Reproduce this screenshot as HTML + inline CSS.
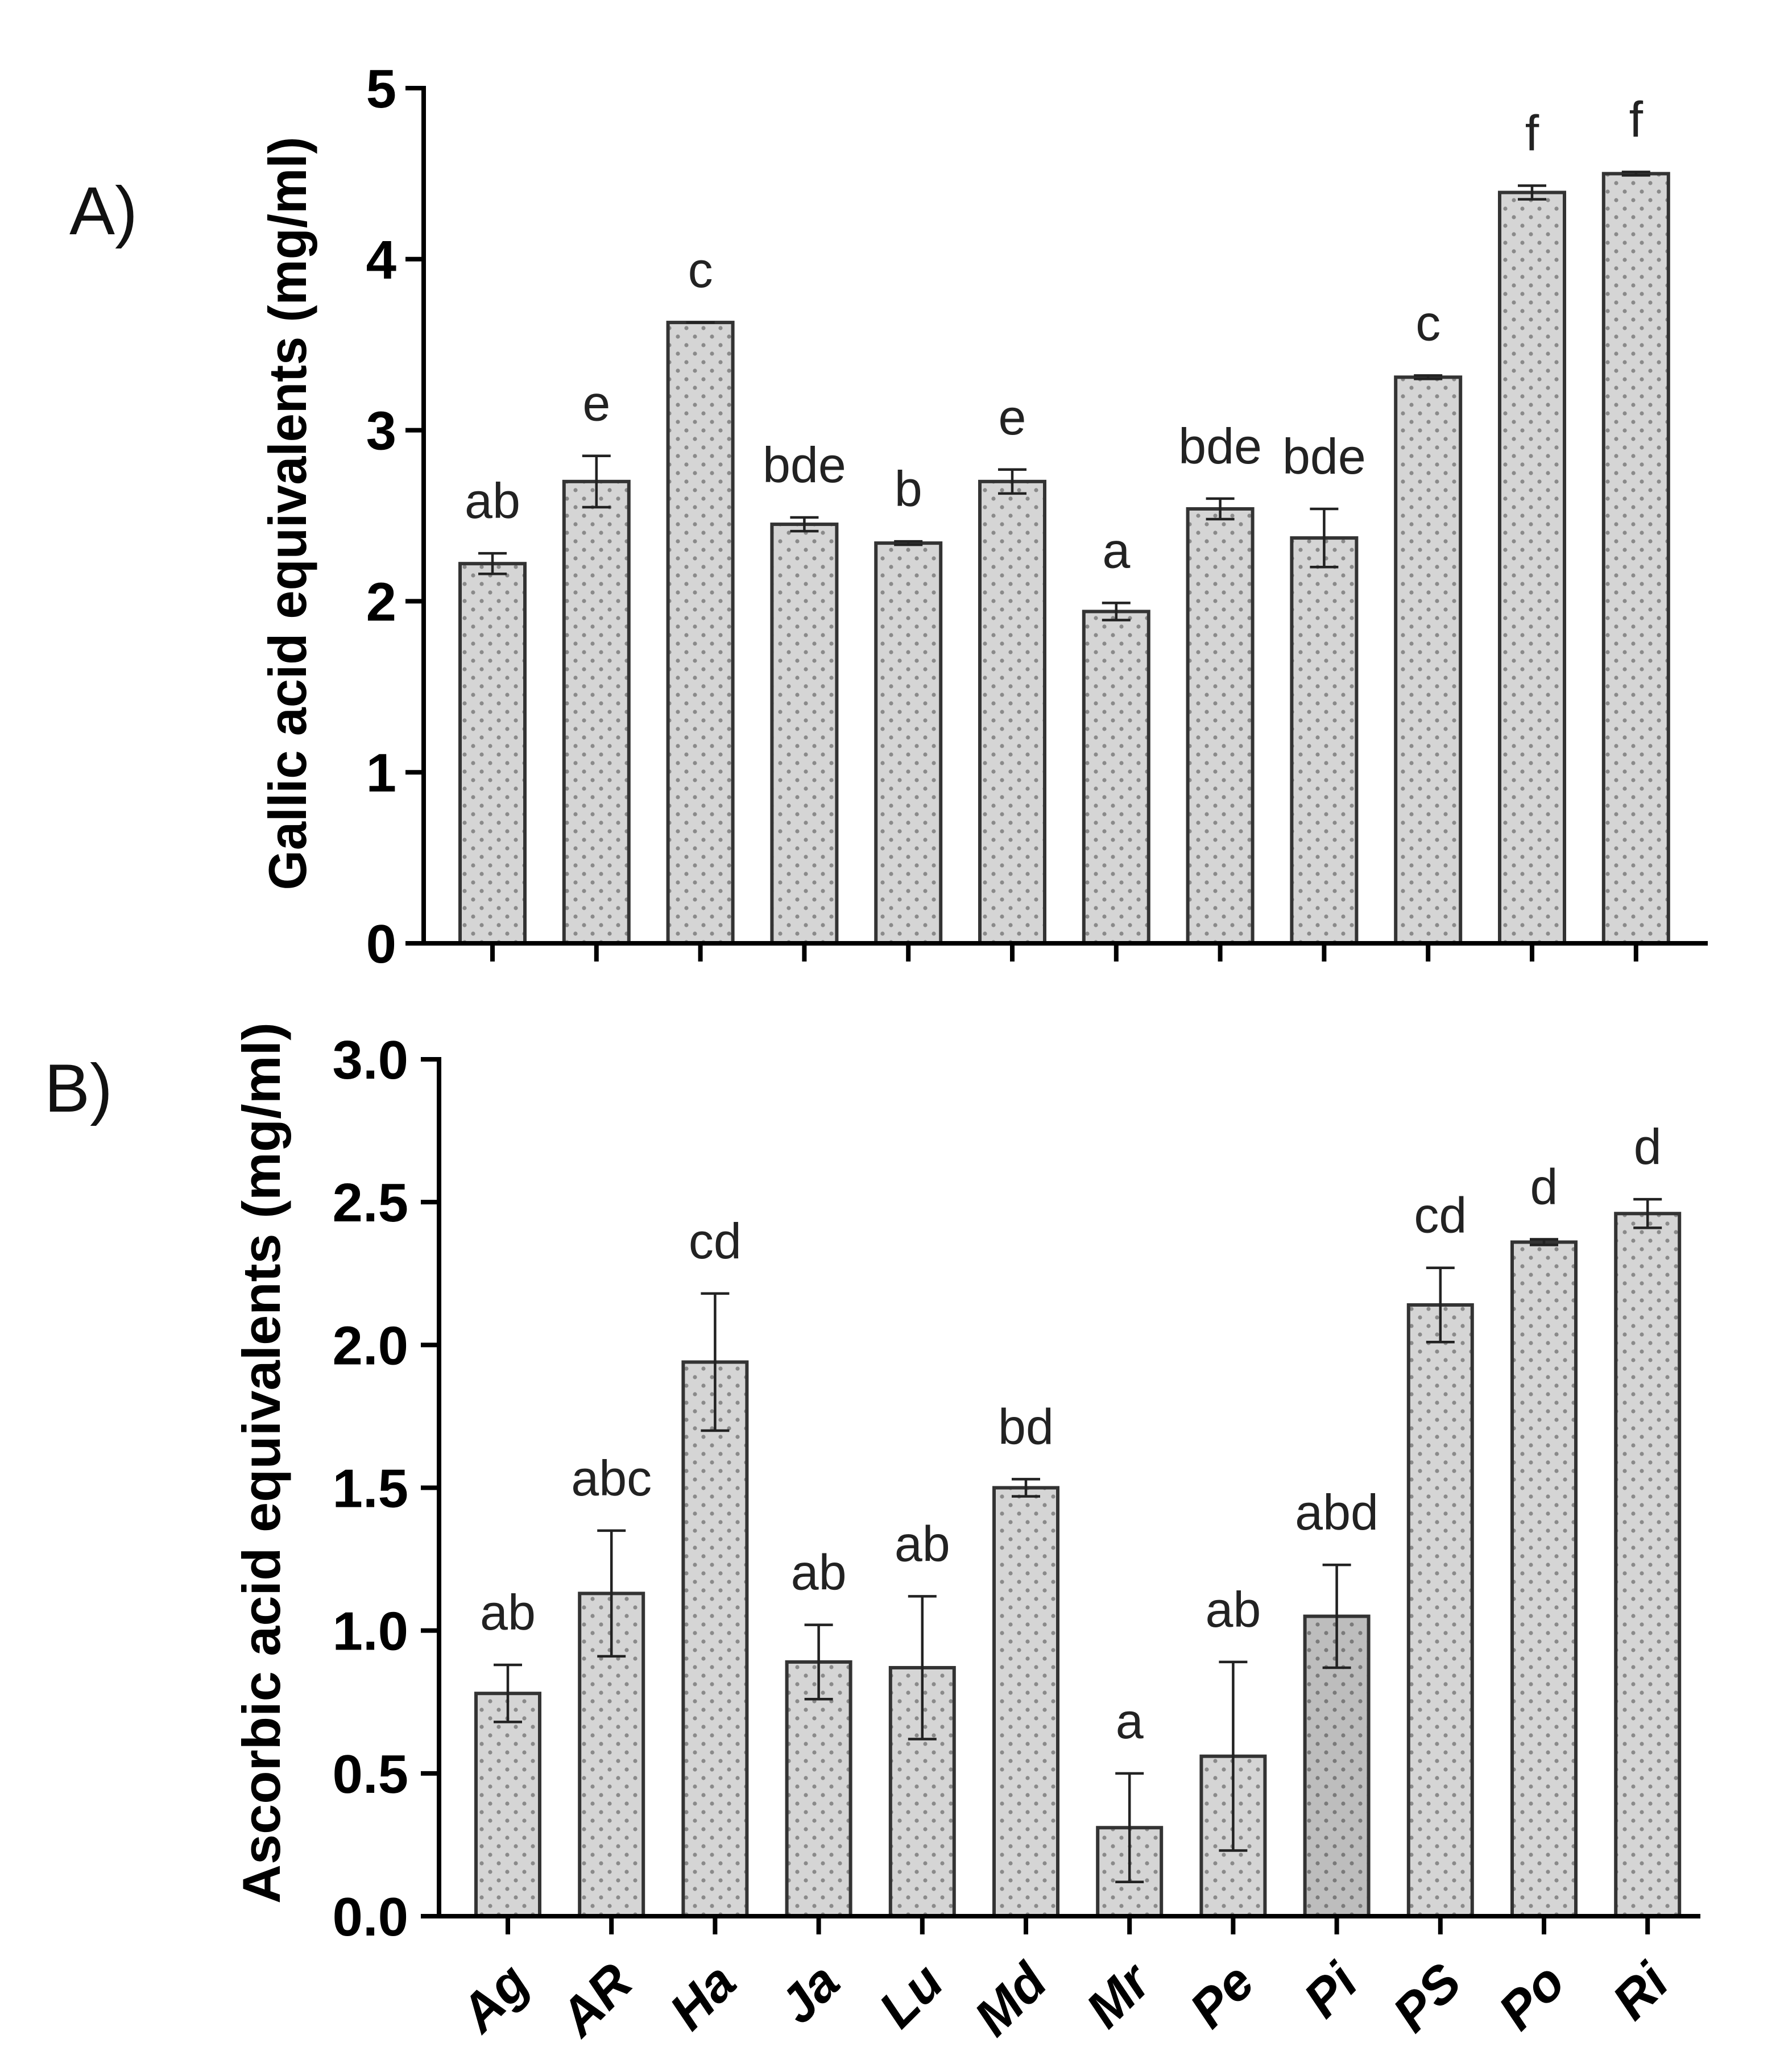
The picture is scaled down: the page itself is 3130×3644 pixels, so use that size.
<!DOCTYPE html>
<html><head><meta charset="utf-8"><style>
html,body{margin:0;padding:0;background:#fff;}
svg{display:block;}
text{font-family:"Liberation Sans",Arial,sans-serif;}
</style></head>
<body>
<svg id="fig" width="3130" height="3644" viewBox="0 0 3130 3644" xmlns="http://www.w3.org/2000/svg">
<defs>
<pattern id="dots" width="30" height="30" patternUnits="userSpaceOnUse">
<rect width="30" height="30" fill="#d5d5d5"/>
<circle cx="7" cy="7" r="3.6" fill="#8a8a8a"/>
<circle cx="22" cy="22" r="3.6" fill="#8a8a8a"/>
</pattern>
<pattern id="dots2" width="30" height="30" patternUnits="userSpaceOnUse">
<rect width="30" height="30" fill="#bdbdbd"/>
<circle cx="7" cy="7" r="3.6" fill="#7a7a7a"/>
<circle cx="22" cy="22" r="3.6" fill="#7a7a7a"/>
</pattern>
</defs>
<text x="122" y="412" font-size="120" fill="#111">A)</text>
<text x="78" y="1955" font-size="120" fill="#111">B)</text>
<g id="pa"></g>
<g id="pb"></g>
</svg>
<script>
const categories = ["Ag","AR","Ha","Ja","Lu","Md","Mr","Pe","Pi","PS","Po","Ri"];
const gallicValues = [2.22,2.70,3.63,2.45,2.34,2.70,1.94,2.54,2.37,3.31,4.39,4.50];
const gallicErrors = [0.06,0.15,0.00,0.04,0.01,0.07,0.05,0.06,0.17,0.01,0.04,0.01];
const gallicLetters = ["ab","e","c","bde","b","e","a","bde","bde","c","f","f"];
const gallicTicks = [0,1,2,3,4,5];
const gallicTickLabels = ["0","1","2","3","4","5"];
const ascorbicValues = [0.78,1.13,1.94,0.89,0.87,1.50,0.31,0.56,1.05,2.14,2.36,2.46];
const ascorbicErrors = [0.10,0.22,0.24,0.13,0.25,0.03,0.19,0.33,0.18,0.13,0.01,0.05];
const ascorbicLetters = ["ab","abc","cd","ab","ab","bd","a","ab","abd","cd","d","d"];
const ascorbicTicks = [0,0.5,1,1.5,2,2.5,3];
const ascorbicTickLabels = ["0.0","0.5","1.0","1.5","2.0","2.5","3.0"];

const NS="http://www.w3.org/2000/svg";
function mk(parent,tag,attrs,txt){const e=document.createElementNS(NS,tag);for(const k in attrs)e.setAttribute(k,attrs[k]);if(txt!==undefined)e.textContent=txt;parent.appendChild(e);return e;}

function drawPanel(g,cfg){
  const yS=v=>cfg.y0-(v/cfg.ymax)*(cfg.y0-cfg.ytop);
  const xS=i=>cfg.x0c+i*cfg.step;
  cfg.values.forEach((v,i)=>{
    const cx=xS(i), top=yS(v), bw=cfg.bw;
    const r=mk(g,'rect',{x:cx-bw/2,y:top,width:bw,height:cfg.y0-top,fill:(cfg.dark===i?'url(#dots2)':'url(#dots)'),stroke:'#333',"stroke-width":6});
    
    
    const e=cfg.errors[i];
    if(e>0){
      const eg=mk(g,'g',{stroke:'#222',"stroke-width":4.5});
      
      
      mk(eg,'line',{x1:cx,x2:cx,y1:yS(v+e),y2:yS(v-e)});
      mk(eg,'line',{x1:cx-25,x2:cx+25,y1:yS(v+e),y2:yS(v+e)});
      mk(eg,'line',{x1:cx-25,x2:cx+25,y1:yS(v-e),y2:yS(v-e)});
    } else {
      const c=mk(g,'line',{x1:cx-25,x2:cx+25,y1:top,y2:top,stroke:'#222',"stroke-width":4.5});
      
      
    }
    const lt=mk(g,'text',{x:cx,y:yS(v+e)-62,"font-size":88,"text-anchor":"middle",fill:'#222'},cfg.letters[i]);
    
    
    const tk=mk(g,'line',{x1:cx,x2:cx,y1:cfg.y0,y2:cfg.y0+32,stroke:'#000',"stroke-width":8});
    
    
    if(cfg.catLabels){
      const px=cx+42, py=cfg.y0+122;
      const cl=mk(g,'text',{x:px,y:py,"font-size":92,"font-weight":"bold","font-style":"italic","text-anchor":"end",fill:'#000',transform:`rotate(-45 ${px} ${py})`},categories[i]);
      
      
    }
  });
  const ya=mk(g,'line',{x1:cfg.ax,x2:cfg.ax,y1:cfg.ytop-4,y2:cfg.y0+4,stroke:'#000',"stroke-width":8});
  
  
  const xa=mk(g,'line',{x1:cfg.ax-32,x2:cfg.xend,y1:cfg.y0,y2:cfg.y0,stroke:'#000',"stroke-width":8});
  
  
  cfg.ticks.forEach((t,k)=>{
    const y=yS(t);
    const l=mk(g,'line',{x1:cfg.ax-32,x2:cfg.ax,y1:y,y2:y,stroke:'#000',"stroke-width":8});
    
    
    const tx=mk(g,'text',{x:cfg.labX,y:y+34,"font-size":96,"font-weight":"bold","text-anchor":"end",fill:'#000'},cfg.tickLabels[k]);
    
    
  });
  const tl=mk(g,'text',{x:0,y:0,"font-size":94,"font-weight":"bold","text-anchor":"middle",fill:'#000',textLength:cfg.titleLen,lengthAdjust:'spacingAndGlyphs',transform:`translate(${cfg.titleX} ${cfg.titleY}) rotate(-90)`},cfg.title);
  
  
}

drawPanel(document.getElementById('pa'),{
  values:gallicValues,errors:gallicErrors,letters:gallicLetters,ticks:gallicTicks,tickLabels:gallicTickLabels,
  ymax:5,y0:1659,ytop:155,ax:745,xend:3003,x0c:866,step:182.8,bw:114,labX:697,
  title:"Gallic acid equivalents (mg/ml)",titleX:538,titleY:903,titleLen:1325,catLabels:false,dark:-1
});
drawPanel(document.getElementById('pb'),{
  values:ascorbicValues,errors:ascorbicErrors,letters:ascorbicLetters,ticks:ascorbicTicks,tickLabels:ascorbicTickLabels,
  ymax:3,y0:3370,ytop:1863,ax:772,xend:2990,x0c:893,step:182.2,bw:112,labX:718,
  title:"Ascorbic acid equivalents (mg/ml)",titleX:492,titleY:2573,titleLen:1550,catLabels:true,dark:8
});
</script>
</body></html>
